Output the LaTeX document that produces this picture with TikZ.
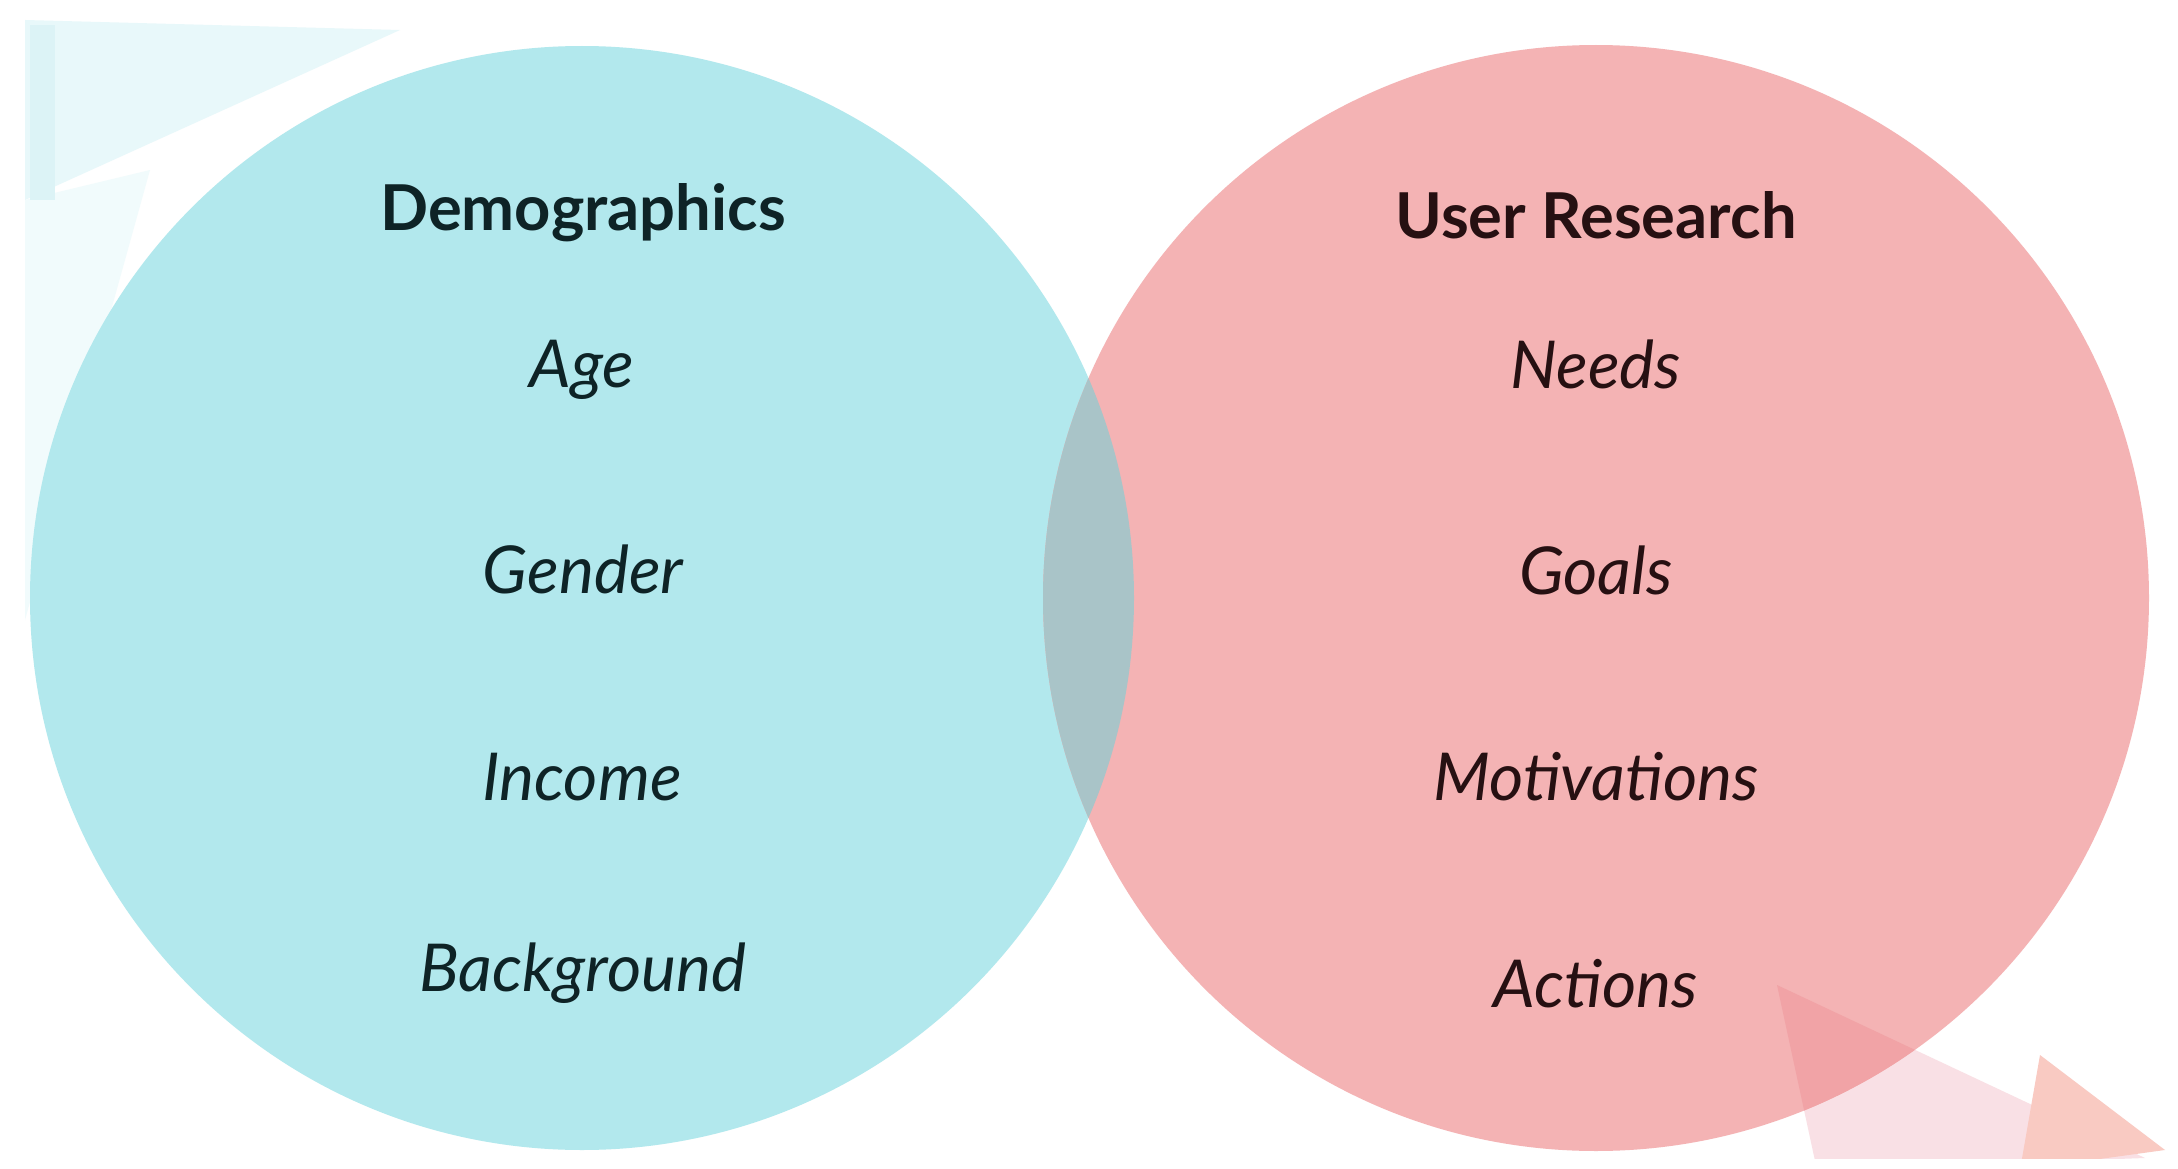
\documentclass[tikz,border=0pt]{standalone}
\usepackage{fontspec}
\setmainfont{Lato}
\usepackage{xcolor}
\usepackage{tikz}
\definecolor{venncyan}{HTML}{B2E8ED}
\definecolor{vennpink}{HTML}{F4B3B4}
\definecolor{vennlens}{HTML}{A9C4C8}
\definecolor{leftink}{HTML}{0E2326}
\definecolor{rightink}{HTML}{261012}
\definecolor{palecyan}{HTML}{E8F8FA}
\definecolor{palercyan}{HTML}{F1FBFC}
\definecolor{stripcyan}{HTML}{DCF3F6}
\definecolor{palepink}{HTML}{F9E0E5}
\definecolor{deeppink}{HTML}{F1A3A6}
\definecolor{peach}{HTML}{F9CAC2}
\tikzset{
  head/.style={anchor=base,font=\fontsize{18}{22}\selectfont\bfseries},
  item/.style={anchor=base,font=\fontsize{18.8}{22}\selectfont\itshape}
}

\begin{document}
\begin{tikzpicture}
\useasboundingbox (0,0) rectangle (21.78,-11.69);
\fill[white] (0,0) rectangle (21.78,-11.69);
\fill[palecyan] (0.25,-0.2) -- (4.0,-0.3) -- (0.25,-2.0) -- cycle;
\fill[palercyan] (0.25,-2.0) -- (1.5,-1.7) -- (0.25,-6.2) -- cycle;
\fill[stripcyan] (0.3,-0.25) rectangle (0.55,-2.0);
\begin{scope}
\clip (0,0) rectangle (21.78,-11.58);
\fill[palepink] (17.77,-9.85) -- (21.45,-11.58) -- (18.17,-11.7) -- cycle;
\fill[peach] (20.40,-10.55) -- (21.65,-11.5) -- (20.20,-11.7) -- cycle;
\end{scope}
\coordinate (lc) at (5.82,-5.98);
\coordinate (rc) at (15.96,-5.98);
\fill[venncyan] (lc) circle (5.52);
\fill[vennpink] (rc) circle (5.53);
\begin{scope}
\clip (lc) circle (5.52);
\fill[vennlens] (rc) circle (5.53);
\end{scope}
\begin{scope}
\clip (rc) circle (5.53);
\fill[deeppink] (17.77,-9.85) -- (21.45,-11.58) -- (18.17,-11.7) -- cycle;
\end{scope}
\node[head,text=leftink] (demo) at (5.83,-2.30) {Demographics};
\node[item,text=leftink] (age) at (5.82,-3.87) {Age};
\node[item,text=leftink] (gender) at (5.83,-5.93) {Gender};
\node[item,text=leftink] (income) at (5.82,-8.00) {Income};
\node[item,text=leftink] (backgr) at (5.83,-9.91) {Background};
\node[head,text=rightink] (research) at (15.96,-2.38) {User Research};
\node[item,text=rightink] (needs) at (15.96,-3.88) {Needs};
\node[item,text=rightink] (goals) at (15.96,-5.94) {Goals};
\node[item,text=rightink] (motiv) at (15.96,-8.00) {Motivations};
\node[item,text=rightink] (actions) at (15.96,-10.07) {Actions};
\end{tikzpicture}
\end{document}
